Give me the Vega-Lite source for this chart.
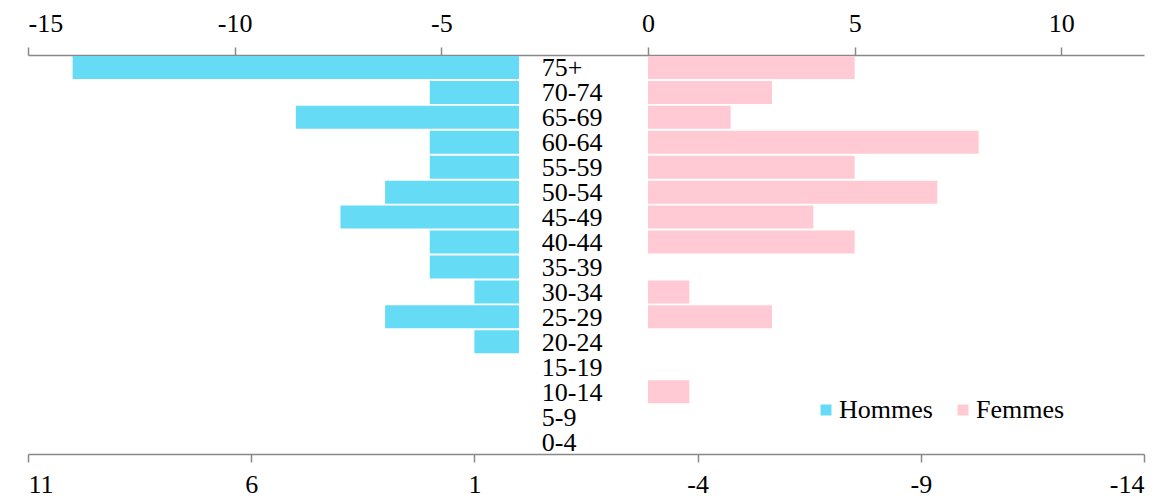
{
  "$schema": "https://vega.github.io/schema/vega-lite/v6.json",
  "autosize": "none",
  "width": 1116,
  "height": 399,
  "padding": {"left": 28, "right": 25, "top": 55, "bottom": 46},
  "background": "white",
  "config": {
    "view": {"stroke": null},
    "font": "'Times New Roman', 'Liberation Serif', serif",
    "axis": {
      "grid": false,
      "domainColor": "#898989",
      "domainWidth": 1.5,
      "tickColor": "#898989",
      "tickWidth": 1.5,
      "tickSize": 8,
      "labelFont": "'Times New Roman', 'Liberation Serif', serif",
      "labelFontSize": 26,
      "labelColor": "black",
      "labelExpr": "'' + datum.value",
      "title": null
    }
  },
  "data": {
    "values": [
      {"age": "75+", "sexe": "Hommes", "valeur": 10},
      {"age": "70-74", "sexe": "Hommes", "valeur": 2},
      {"age": "65-69", "sexe": "Hommes", "valeur": 5},
      {"age": "60-64", "sexe": "Hommes", "valeur": 2},
      {"age": "55-59", "sexe": "Hommes", "valeur": 2},
      {"age": "50-54", "sexe": "Hommes", "valeur": 3},
      {"age": "45-49", "sexe": "Hommes", "valeur": 4},
      {"age": "40-44", "sexe": "Hommes", "valeur": 2},
      {"age": "35-39", "sexe": "Hommes", "valeur": 2},
      {"age": "30-34", "sexe": "Hommes", "valeur": 1},
      {"age": "25-29", "sexe": "Hommes", "valeur": 3},
      {"age": "20-24", "sexe": "Hommes", "valeur": 1},
      {"age": "15-19", "sexe": "Hommes", "valeur": 0},
      {"age": "10-14", "sexe": "Hommes", "valeur": 0},
      {"age": "5-9", "sexe": "Hommes", "valeur": 0},
      {"age": "0-4", "sexe": "Hommes", "valeur": 0},
      {"age": "75+", "sexe": "Femmes", "valeur": 5},
      {"age": "70-74", "sexe": "Femmes", "valeur": 3},
      {"age": "65-69", "sexe": "Femmes", "valeur": 2},
      {"age": "60-64", "sexe": "Femmes", "valeur": 8},
      {"age": "55-59", "sexe": "Femmes", "valeur": 5},
      {"age": "50-54", "sexe": "Femmes", "valeur": 7},
      {"age": "45-49", "sexe": "Femmes", "valeur": 4},
      {"age": "40-44", "sexe": "Femmes", "valeur": 5},
      {"age": "35-39", "sexe": "Femmes", "valeur": 0},
      {"age": "30-34", "sexe": "Femmes", "valeur": 1},
      {"age": "25-29", "sexe": "Femmes", "valeur": 3},
      {"age": "20-24", "sexe": "Femmes", "valeur": 0},
      {"age": "15-19", "sexe": "Femmes", "valeur": 0},
      {"age": "10-14", "sexe": "Femmes", "valeur": 1},
      {"age": "5-9", "sexe": "Femmes", "valeur": 0},
      {"age": "0-4", "sexe": "Femmes", "valeur": 0}
    ]
  },
  "encoding": {
    "y": {
      "field": "age",
      "type": "nominal",
      "sort": ["75+","70-74","65-69","60-64","55-59","50-54","45-49","40-44","35-39","30-34","25-29","20-24","15-19","10-14","5-9","0-4"],
      "scale": {"paddingInner": 0.08, "paddingOuter": 0.04},
      "axis": null
    }
  },
  "layer": [
    {
      "transform": [{"filter": "datum.sexe === 'Femmes'"}],
      "mark": {"type": "bar"},
      "encoding": {
        "x": {
          "field": "valeur",
          "type": "quantitative",
          "scale": {"domain": [-15, 12], "nice": false, "zero": false},
          "axis": {"orient": "top", "values": [-15, -10, -5, 0, 5, 10], "labelPadding": 11}
        },
        "color": {
          "field": "sexe",
          "type": "nominal",
          "scale": {"domain": ["Hommes", "Femmes"], "range": ["#66DBF6", "#FFCAD4"]},
          "legend": {
            "orient": "none",
            "legendX": 785,
            "legendY": 342,
            "direction": "horizontal",
            "title": null,
            "symbolType": "square",
            "symbolSize": 121,
            "symbolStrokeWidth": 0,
            "labelFontSize": 26,
            "labelFont": "'Times New Roman', 'Liberation Serif', serif",
            "labelColor": "black",
            "labelOffset": 0,
            "columnPadding": 17,
            "padding": 0
          }
        }
      }
    },
    {
      "transform": [{"filter": "datum.sexe === 'Hommes'"}],
      "mark": {"type": "bar"},
      "encoding": {
        "x": {
          "field": "valeur",
          "type": "quantitative",
          "scale": {"domain": [-14, 11], "reverse": true, "nice": false, "zero": false},
          "axis": {"orient": "bottom", "values": [11, 6, 1, -4, -9, -14], "labelPadding": 9}
        },
        "color": {"field": "sexe", "type": "nominal"}
      }
    },
    {
      "transform": [{"filter": "datum.sexe === 'Hommes'"}],
      "mark": {"type": "text", "align": "left", "baseline": "middle", "font": "'Times New Roman', 'Liberation Serif', serif", "fontSize": 26, "color": "black", "dy": 1},
      "encoding": {
        "x": {"datum": -2.57, "type": "quantitative", "scale": {"domain": [-15, 12], "nice": false, "zero": false}, "axis": null},
        "text": {"field": "age", "type": "nominal"}
      }
    }
  ],
  "resolve": {"scale": {"x": "independent"}, "axis": {"x": "independent"}}
}
